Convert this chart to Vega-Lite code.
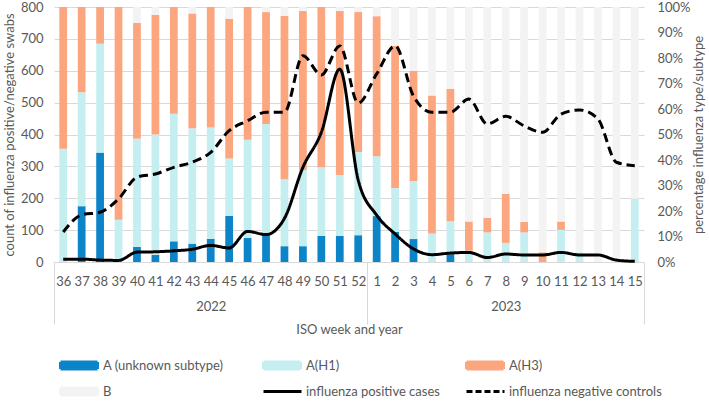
{
  "$schema": "https://vega.github.io/schema/vega-lite/v6.json",
  "width": 590,
  "height": 255,
  "padding": {"left": 3, "top": 1, "right": 2, "bottom": 2},
  "background": "#ffffff",
  "config": {
    "font": "Lato",
    "view": {"stroke": null},
    "axis": {
      "labelFont": "Lato", "titleFont": "Lato",
      "labelFontSize": 13, "titleFontSize": 13, "titleFontWeight": "normal",
      "labelColor": "#595959", "titleColor": "#595959",
      "ticks": false, "domain": false
    },
    "legend": {"labelFont": "Lato", "labelFontSize": 13, "labelColor": "#595959"}
  },
  "datasets": {
    "bars": [
      {"wk": "2022-36", "t": "A(H1)", "p": 44.4, "o": 2},
      {"wk": "2022-36", "t": "A(H3)", "p": 55.6, "o": 3},
      {"wk": "2022-37", "t": "A (unknown subtype)", "p": 21.9, "o": 1},
      {"wk": "2022-37", "t": "A(H1)", "p": 44.7, "o": 2},
      {"wk": "2022-37", "t": "A(H3)", "p": 33.4, "o": 3},
      {"wk": "2022-38", "t": "A (unknown subtype)", "p": 42.9, "o": 1},
      {"wk": "2022-38", "t": "A(H1)", "p": 42.7, "o": 2},
      {"wk": "2022-38", "t": "A(H3)", "p": 14.4, "o": 3},
      {"wk": "2022-39", "t": "A(H1)", "p": 16.6, "o": 2},
      {"wk": "2022-39", "t": "A(H3)", "p": 83.4, "o": 3},
      {"wk": "2022-40", "t": "A (unknown subtype)", "p": 5.9, "o": 1},
      {"wk": "2022-40", "t": "A(H1)", "p": 42.5, "o": 2},
      {"wk": "2022-40", "t": "A(H3)", "p": 45.4, "o": 3},
      {"wk": "2022-40", "t": "B", "p": 6.2, "o": 4},
      {"wk": "2022-41", "t": "A (unknown subtype)", "p": 2.8, "o": 1},
      {"wk": "2022-41", "t": "A(H1)", "p": 47.2, "o": 2},
      {"wk": "2022-41", "t": "A(H3)", "p": 46.9, "o": 3},
      {"wk": "2022-41", "t": "B", "p": 3.1, "o": 4},
      {"wk": "2022-42", "t": "A (unknown subtype)", "p": 8.1, "o": 1},
      {"wk": "2022-42", "t": "A(H1)", "p": 50.0, "o": 2},
      {"wk": "2022-42", "t": "A(H3)", "p": 41.9, "o": 3},
      {"wk": "2022-43", "t": "A (unknown subtype)", "p": 7.2, "o": 1},
      {"wk": "2022-43", "t": "A(H1)", "p": 45.3, "o": 2},
      {"wk": "2022-43", "t": "A(H3)", "p": 45.0, "o": 3},
      {"wk": "2022-43", "t": "B", "p": 2.5, "o": 4},
      {"wk": "2022-44", "t": "A (unknown subtype)", "p": 9.1, "o": 1},
      {"wk": "2022-44", "t": "A(H1)", "p": 43.6, "o": 2},
      {"wk": "2022-44", "t": "A(H3)", "p": 47.3, "o": 3},
      {"wk": "2022-45", "t": "A (unknown subtype)", "p": 18.1, "o": 1},
      {"wk": "2022-45", "t": "A(H1)", "p": 22.5, "o": 2},
      {"wk": "2022-45", "t": "A(H3)", "p": 54.8, "o": 3},
      {"wk": "2022-45", "t": "B", "p": 4.6, "o": 4},
      {"wk": "2022-46", "t": "A (unknown subtype)", "p": 9.4, "o": 1},
      {"wk": "2022-46", "t": "A(H1)", "p": 38.5, "o": 2},
      {"wk": "2022-46", "t": "A(H3)", "p": 52.1, "o": 3},
      {"wk": "2022-47", "t": "A (unknown subtype)", "p": 11.0, "o": 1},
      {"wk": "2022-47", "t": "A(H1)", "p": 43.1, "o": 2},
      {"wk": "2022-47", "t": "A(H3)", "p": 43.9, "o": 3},
      {"wk": "2022-47", "t": "B", "p": 2.0, "o": 4},
      {"wk": "2022-48", "t": "A (unknown subtype)", "p": 6.2, "o": 1},
      {"wk": "2022-48", "t": "A(H1)", "p": 26.3, "o": 2},
      {"wk": "2022-48", "t": "A(H3)", "p": 64.0, "o": 3},
      {"wk": "2022-48", "t": "B", "p": 3.5, "o": 4},
      {"wk": "2022-49", "t": "A (unknown subtype)", "p": 6.2, "o": 1},
      {"wk": "2022-49", "t": "A(H1)", "p": 29.9, "o": 2},
      {"wk": "2022-49", "t": "A(H3)", "p": 62.3, "o": 3},
      {"wk": "2022-49", "t": "B", "p": 1.6, "o": 4},
      {"wk": "2022-50", "t": "A (unknown subtype)", "p": 10.2, "o": 1},
      {"wk": "2022-50", "t": "A(H1)", "p": 27.0, "o": 2},
      {"wk": "2022-50", "t": "A(H3)", "p": 62.8, "o": 3},
      {"wk": "2022-51", "t": "A (unknown subtype)", "p": 10.2, "o": 1},
      {"wk": "2022-51", "t": "A(H1)", "p": 23.9, "o": 2},
      {"wk": "2022-51", "t": "A(H3)", "p": 64.3, "o": 3},
      {"wk": "2022-51", "t": "B", "p": 1.6, "o": 4},
      {"wk": "2022-52", "t": "A (unknown subtype)", "p": 10.5, "o": 1},
      {"wk": "2022-52", "t": "A(H1)", "p": 32.6, "o": 2},
      {"wk": "2022-52", "t": "A(H3)", "p": 54.9, "o": 3},
      {"wk": "2022-52", "t": "B", "p": 2.0, "o": 4},
      {"wk": "2023-01", "t": "A (unknown subtype)", "p": 18.0, "o": 1},
      {"wk": "2023-01", "t": "A(H1)", "p": 23.5, "o": 2},
      {"wk": "2023-01", "t": "A(H3)", "p": 54.9, "o": 3},
      {"wk": "2023-01", "t": "B", "p": 3.6, "o": 4},
      {"wk": "2023-02", "t": "A (unknown subtype)", "p": 11.8, "o": 1},
      {"wk": "2023-02", "t": "A(H1)", "p": 17.2, "o": 2},
      {"wk": "2023-02", "t": "A(H3)", "p": 55.8, "o": 3},
      {"wk": "2023-02", "t": "B", "p": 15.2, "o": 4},
      {"wk": "2023-03", "t": "A (unknown subtype)", "p": 9.0, "o": 1},
      {"wk": "2023-03", "t": "A(H1)", "p": 22.8, "o": 2},
      {"wk": "2023-03", "t": "A(H3)", "p": 43.2, "o": 3},
      {"wk": "2023-03", "t": "B", "p": 25.0, "o": 4},
      {"wk": "2023-04", "t": "A(H1)", "p": 11.2, "o": 2},
      {"wk": "2023-04", "t": "A(H3)", "p": 54.1, "o": 3},
      {"wk": "2023-04", "t": "B", "p": 34.7, "o": 4},
      {"wk": "2023-05", "t": "A (unknown subtype)", "p": 3.1, "o": 1},
      {"wk": "2023-05", "t": "A(H1)", "p": 12.9, "o": 2},
      {"wk": "2023-05", "t": "A(H3)", "p": 51.9, "o": 3},
      {"wk": "2023-05", "t": "B", "p": 32.1, "o": 4},
      {"wk": "2023-06", "t": "A(H1)", "p": 4.4, "o": 2},
      {"wk": "2023-06", "t": "A(H3)", "p": 11.5, "o": 3},
      {"wk": "2023-06", "t": "B", "p": 84.1, "o": 4},
      {"wk": "2023-07", "t": "A(H1)", "p": 11.6, "o": 2},
      {"wk": "2023-07", "t": "A(H3)", "p": 5.8, "o": 3},
      {"wk": "2023-07", "t": "B", "p": 82.6, "o": 4},
      {"wk": "2023-08", "t": "A(H1)", "p": 7.5, "o": 2},
      {"wk": "2023-08", "t": "A(H3)", "p": 19.2, "o": 3},
      {"wk": "2023-08", "t": "B", "p": 73.3, "o": 4},
      {"wk": "2023-09", "t": "A(H1)", "p": 11.6, "o": 2},
      {"wk": "2023-09", "t": "A(H3)", "p": 4.2, "o": 3},
      {"wk": "2023-09", "t": "B", "p": 84.2, "o": 4},
      {"wk": "2023-10", "t": "A(H3)", "p": 3.8, "o": 3},
      {"wk": "2023-10", "t": "B", "p": 96.2, "o": 4},
      {"wk": "2023-11", "t": "A(H1)", "p": 12.6, "o": 2},
      {"wk": "2023-11", "t": "A(H3)", "p": 3.3, "o": 3},
      {"wk": "2023-11", "t": "B", "p": 84.1, "o": 4},
      {"wk": "2023-12", "t": "A(H1)", "p": 3.8, "o": 2},
      {"wk": "2023-12", "t": "B", "p": 96.2, "o": 4},
      {"wk": "2023-13", "t": "B", "p": 100, "o": 4},
      {"wk": "2023-14", "t": "B", "p": 100, "o": 4},
      {"wk": "2023-15", "t": "A(H1)", "p": 24.8, "o": 2},
      {"wk": "2023-15", "t": "B", "p": 75.2, "o": 4}
    ],
    "lines": [
      {"wk": "2022-36", "s": "influenza positive cases", "n": 9},
      {"wk": "2022-37", "s": "influenza positive cases", "n": 9},
      {"wk": "2022-38", "s": "influenza positive cases", "n": 6},
      {"wk": "2022-39", "s": "influenza positive cases", "n": 5},
      {"wk": "2022-40", "s": "influenza positive cases", "n": 31},
      {"wk": "2022-41", "s": "influenza positive cases", "n": 32},
      {"wk": "2022-42", "s": "influenza positive cases", "n": 35},
      {"wk": "2022-43", "s": "influenza positive cases", "n": 40},
      {"wk": "2022-44", "s": "influenza positive cases", "n": 52},
      {"wk": "2022-45", "s": "influenza positive cases", "n": 44},
      {"wk": "2022-46", "s": "influenza positive cases", "n": 96},
      {"wk": "2022-47", "s": "influenza positive cases", "n": 86},
      {"wk": "2022-48", "s": "influenza positive cases", "n": 137},
      {"wk": "2022-49", "s": "influenza positive cases", "n": 297},
      {"wk": "2022-50", "s": "influenza positive cases", "n": 407},
      {"wk": "2022-51", "s": "influenza positive cases", "n": 605},
      {"wk": "2022-52", "s": "influenza positive cases", "n": 257},
      {"wk": "2023-01", "s": "influenza positive cases", "n": 147},
      {"wk": "2023-02", "s": "influenza positive cases", "n": 88},
      {"wk": "2023-03", "s": "influenza positive cases", "n": 41},
      {"wk": "2023-04", "s": "influenza positive cases", "n": 23},
      {"wk": "2023-05", "s": "influenza positive cases", "n": 28},
      {"wk": "2023-06", "s": "influenza positive cases", "n": 30},
      {"wk": "2023-07", "s": "influenza positive cases", "n": 14},
      {"wk": "2023-08", "s": "influenza positive cases", "n": 25},
      {"wk": "2023-09", "s": "influenza positive cases", "n": 22},
      {"wk": "2023-10", "s": "influenza positive cases", "n": 22},
      {"wk": "2023-11", "s": "influenza positive cases", "n": 30},
      {"wk": "2023-12", "s": "influenza positive cases", "n": 22},
      {"wk": "2023-13", "s": "influenza positive cases", "n": 22},
      {"wk": "2023-14", "s": "influenza positive cases", "n": 6},
      {"wk": "2023-15", "s": "influenza positive cases", "n": 2},
      {"wk": "2022-36", "s": "influenza negative controls", "n": 94},
      {"wk": "2022-37", "s": "influenza negative controls", "n": 148},
      {"wk": "2022-38", "s": "influenza negative controls", "n": 156},
      {"wk": "2022-39", "s": "influenza negative controls", "n": 198},
      {"wk": "2022-40", "s": "influenza negative controls", "n": 266},
      {"wk": "2022-41", "s": "influenza negative controls", "n": 276},
      {"wk": "2022-42", "s": "influenza negative controls", "n": 297},
      {"wk": "2022-43", "s": "influenza negative controls", "n": 313},
      {"wk": "2022-44", "s": "influenza negative controls", "n": 344},
      {"wk": "2022-45", "s": "influenza negative controls", "n": 412},
      {"wk": "2022-46", "s": "influenza negative controls", "n": 443},
      {"wk": "2022-47", "s": "influenza negative controls", "n": 470},
      {"wk": "2022-48", "s": "influenza negative controls", "n": 470},
      {"wk": "2022-49", "s": "influenza negative controls", "n": 647},
      {"wk": "2022-50", "s": "influenza negative controls", "n": 587},
      {"wk": "2022-51", "s": "influenza negative controls", "n": 678},
      {"wk": "2022-52", "s": "influenza negative controls", "n": 499},
      {"wk": "2023-01", "s": "influenza negative controls", "n": 590},
      {"wk": "2023-02", "s": "influenza negative controls", "n": 678},
      {"wk": "2023-03", "s": "influenza negative controls", "n": 520},
      {"wk": "2023-04", "s": "influenza negative controls", "n": 470},
      {"wk": "2023-05", "s": "influenza negative controls", "n": 470},
      {"wk": "2023-06", "s": "influenza negative controls", "n": 511},
      {"wk": "2023-07", "s": "influenza negative controls", "n": 433},
      {"wk": "2023-08", "s": "influenza negative controls", "n": 457},
      {"wk": "2023-09", "s": "influenza negative controls", "n": 427},
      {"wk": "2023-10", "s": "influenza negative controls", "n": 407},
      {"wk": "2023-11", "s": "influenza negative controls", "n": 464},
      {"wk": "2023-12", "s": "influenza negative controls", "n": 477},
      {"wk": "2023-13", "s": "influenza negative controls", "n": 449},
      {"wk": "2023-14", "s": "influenza negative controls", "n": 313},
      {"wk": "2023-15", "s": "influenza negative controls", "n": 302}
    ]
  },
  "layer": [
    {
      "data": {"name": "bars"},
      "mark": {"type": "bar", "width": {"band": 0.42}},
      "encoding": {
        "x": {
          "field": "wk", "type": "ordinal",
          "scale": {"paddingInner": 0, "paddingOuter": 0},
          "axis": {
            "title": "ISO week and year",
            "labelAngle": 0,
            "labelExpr": "!datum.value ? '' : datum.value == '2022-44' ? ['44', '2022'] : datum.value == '2023-08' ? ['8', '2023'] : '' + toNumber(substring(datum.value, 5, 7))",
            "labelLineHeight": 25,
            "labelBaseline": "top",
            "ticks": true,
            "tickBand": "extent",
            "tickSize": 62,
            "tickWidth": 1,
            "tickColor": {"condition": {"test": "datum.value == '2022-52' || datum.value == '2023-15' || datum.extra", "value": "#d9d9d9"}, "value": "rgba(255,255,255,0)"},
            "labelPadding": -49,
            "domain": true,
            "domainColor": "#d9d9d9",
            "titlePadding": -1
          }
        },
        "y": {
          "field": "p", "type": "quantitative", "stack": "zero",
          "scale": {"domain": [0, 100]},
          "axis": {
            "orient": "right",
            "values": [0, 10, 20, 30, 40, 50, 60, 70, 80, 90, 100],
            "labelExpr": "datum.value + '%'",
            "title": "percentage influenza type/subtype",
            "titleAngle": 270,
            "grid": false,
            "labelPadding": 13,
            "titlePadding": 15
          }
        },
        "color": {
          "field": "t", "type": "nominal",
          "scale": {
            "domain": ["A (unknown subtype)", "A(H1)", "A(H3)", "B", "influenza positive cases", "influenza negative controls"],
            "range": ["#0b84c8", "#c5eef0", "#fba67e", "#f3f3f3", "#000000", "#000000"]
          },
          "legend": {
            "title": null,
            "orient": "bottom",
            "direction": "horizontal",
            "columns": 3,
            "gridAlign": "all",
            "symbolSize": 100,
            "labelOffset": 31,
            "columnPadding": 1,
            "rowPadding": 7,
            "offset": 17,
            "padding": 5,
            "symbolType": {"expr": "indexof(['influenza positive cases','influenza negative controls'], datum.value) >= 0 ? 'M-1,0H6.6' : 'M-1,-0.7H6.4V0.7H-1Z'"},
            "symbolStrokeWidth": 3,
            "symbolStrokeColor": {"expr": "indexof(['influenza positive cases','influenza negative controls'], datum.value) >= 0 ? '#000000' : 'rgba(255,255,255,0)'"},
            "symbolDash": {"expr": "datum.value == 'influenza negative controls' ? [6, 3] : [1, 0]"},
            "symbolOpacity": 1
          }
        },
        "order": {"field": "o", "type": "quantitative"}
      }
    },
    {
      "data": {"name": "lines"},
      "mark": {"type": "line", "interpolate": "monotone", "strokeWidth": 3},
      "encoding": {
        "x": {"field": "wk", "type": "ordinal"},
        "y": {
          "field": "n", "type": "quantitative",
          "scale": {"domain": [0, 800]},
          "axis": {
            "orient": "left",
            "values": [0, 100, 200, 300, 400, 500, 600, 700, 800],
            "title": "count of influenza positive/negative swabs",
            "grid": true,
            "gridColor": "#d9d9d9",
            "labelPadding": 11,
            "titlePadding": 4
          }
        },
        "color": {"field": "s", "type": "nominal"},
        "strokeDash": {
          "field": "s", "type": "nominal",
          "scale": {"domain": ["influenza positive cases", "influenza negative controls"], "range": [[1, 0], [9, 5]]},
          "legend": null
        }
      }
    }
  ],
  "resolve": {"scale": {"y": "independent"}}
}
